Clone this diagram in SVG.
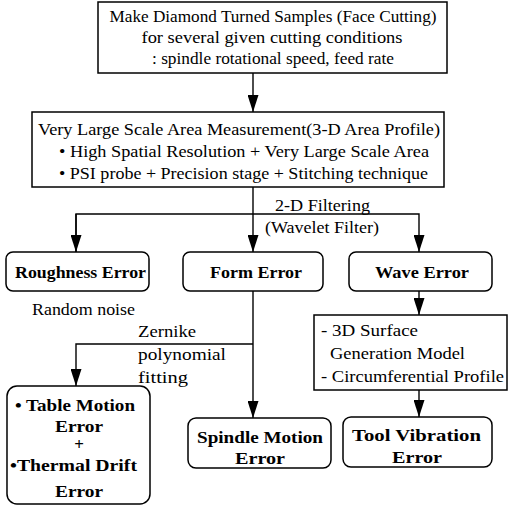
<svg xmlns="http://www.w3.org/2000/svg" width="509" height="506" viewBox="0 0 509 506">
  <style>
    .box { fill: #fff; stroke: #000; stroke-width: 1.5; }
    .rbox { fill: #fff; stroke: #000; stroke-width: 1.5; }
    .t { font-family: "Liberation Serif", "Times New Roman", serif; font-size: 17px; fill: #000; }
    .b { font-family: "Liberation Serif", "Times New Roman", serif; font-size: 17px; font-weight: bold; fill: #000; }
    .c { text-anchor: middle; }
    .ln { fill: none; stroke: #000; stroke-width: 1.4; }
  </style>
  <defs>
    <marker id="arr" viewBox="0 0 17 11" refX="17" refY="5.5" markerWidth="17" markerHeight="11" markerUnits="userSpaceOnUse" orient="auto">
      <path d="M0,0 L17,5.5 L0,11 Z" fill="#000"/>
    </marker>
  </defs>

  <!-- connectors -->
  <g id="connectors">
    <path class="ln" d="M253,73 V112" marker-end="url(#arr)"/>
    <path class="ln" d="M253,187 V252" marker-end="url(#arr)"/>
    <path class="ln" d="M76,252 V214 H419 V252" marker-end="url(#arr)"/>
    <path class="ln" d="M76,214 V252" marker-end="url(#arr)"/>
    <path class="ln" d="M253,291 V418" marker-end="url(#arr)"/>
    <path class="ln" d="M253,344 H76 V386" marker-end="url(#arr)"/>
    <path class="ln" d="M419,291 V315" marker-end="url(#arr)"/>
    <path class="ln" d="M419,390 V417" marker-end="url(#arr)"/>
    <text class="t" x="275" y="211" textLength="95" lengthAdjust="spacingAndGlyphs">2-D Filtering</text>
    <text class="t" x="265" y="233" textLength="114" lengthAdjust="spacingAndGlyphs">(Wavelet Filter)</text>
    <text class="t" x="138" y="337" textLength="58" lengthAdjust="spacingAndGlyphs">Zernike</text>
    <text class="t" x="138" y="360" textLength="88" lengthAdjust="spacingAndGlyphs">polynomial</text>
    <text class="t" x="138" y="383" textLength="50" lengthAdjust="spacingAndGlyphs">fitting</text>
  </g>

  <g id="samples">
    <rect class="box" x="98" y="2" width="349" height="71"/>
    <text class="t c" x="273" y="22" textLength="327" lengthAdjust="spacingAndGlyphs">Make Diamond Turned Samples (Face Cutting)</text>
    <text class="t c" x="272" y="43" textLength="261" lengthAdjust="spacingAndGlyphs">for several given cutting conditions</text>
    <text class="t c" x="273" y="64" textLength="242" lengthAdjust="spacingAndGlyphs">: spindle rotational speed, feed rate</text>
  </g>

  <g id="measurement">
    <rect class="box" x="32" y="112" width="412" height="75"/>
    <text class="t" x="38" y="135" textLength="402" lengthAdjust="spacingAndGlyphs">Very Large Scale Area Measurement(3-D Area Profile)</text>
    <text class="t" x="59" y="157" textLength="370" lengthAdjust="spacingAndGlyphs">• High Spatial Resolution + Very Large Scale Area</text>
    <text class="t" x="59" y="179" textLength="369" lengthAdjust="spacingAndGlyphs">• PSI probe + Precision stage + Stitching technique</text>
  </g>

  <g id="roughness">
    <rect class="rbox" x="6" y="252" width="143" height="39" rx="7"/>
    <text class="b" x="15" y="278" textLength="131" lengthAdjust="spacingAndGlyphs">Roughness Error</text>
    <text class="t" x="32" y="315" textLength="103" lengthAdjust="spacingAndGlyphs">Random noise</text>
  </g>

  <g id="form">
    <rect class="rbox" x="183" y="252" width="140" height="39" rx="7"/>
    <text class="b" x="210" y="278" textLength="92" lengthAdjust="spacingAndGlyphs">Form Error</text>
  </g>

  <g id="wave">
    <rect class="rbox" x="349" y="252" width="143" height="39" rx="7"/>
    <text class="b" x="375" y="278" textLength="94" lengthAdjust="spacingAndGlyphs">Wave Error</text>
  </g>

  <g id="model">
    <rect class="box" x="314" y="315" width="193" height="75"/>
    <text class="t" x="321" y="336" textLength="97" lengthAdjust="spacingAndGlyphs">- 3D Surface</text>
    <text class="t" x="330" y="359" textLength="135" lengthAdjust="spacingAndGlyphs">Generation  Model</text>
    <text class="t" x="321" y="382" textLength="183" lengthAdjust="spacingAndGlyphs">- Circumferential Profile</text>
  </g>

  <g id="table">
    <rect class="rbox" x="7" y="386" width="143" height="118" rx="10"/>
    <text class="b" x="15" y="411" textLength="120" lengthAdjust="spacingAndGlyphs">• Table Motion</text>
    <text class="b c" x="79" y="432" textLength="48" lengthAdjust="spacingAndGlyphs">Error</text>
    <text class="b c" x="79" y="450">+</text>
    <text class="b" x="10" y="471" textLength="127" lengthAdjust="spacingAndGlyphs">•Thermal Drift</text>
    <text class="b c" x="79" y="497" textLength="48" lengthAdjust="spacingAndGlyphs">Error</text>
  </g>

  <g id="spindle">
    <rect class="rbox" x="188" y="418" width="143" height="50" rx="8"/>
    <text class="b" x="197" y="443" textLength="126" lengthAdjust="spacingAndGlyphs">Spindle Motion</text>
    <text class="b c" x="260" y="464" textLength="50" lengthAdjust="spacingAndGlyphs">Error</text>
  </g>

  <g id="tool">
    <rect class="rbox" x="343" y="417" width="149" height="50" rx="8"/>
    <text class="b" x="352" y="441" textLength="129" lengthAdjust="spacingAndGlyphs">Tool Vibration</text>
    <text class="b c" x="417" y="463" textLength="50" lengthAdjust="spacingAndGlyphs">Error</text>
  </g>
</svg>
